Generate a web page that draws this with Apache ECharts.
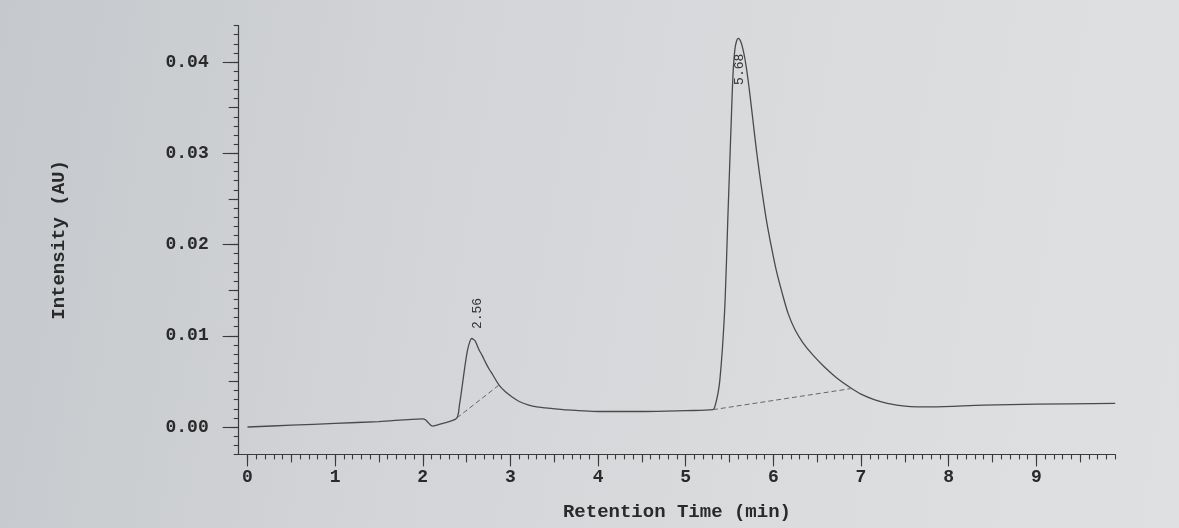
<!DOCTYPE html>
<html>
<head>
<meta charset="utf-8">
<script src="https://cdn.jsdelivr.net/npm/echarts@6/dist/echarts.min.js"></script>
<style>
  html, body { margin: 0; padding: 0; }
  #chart {
    width: 1179px; height: 528px;
    background: linear-gradient(100deg, #c5c8cc 0%, #d2d4d7 35%, #dadcde 70%, #dfe0e2 100%);
  }
</style>
</head>
<body>
<div id="chart"></div>
<script>
// ---- Data ----
const retentionTime = [0.00, 0.50, 1.00, 1.50, 2.00, 2.03, 2.07, 2.11, 2.16, 2.23, 2.30, 2.39,
  2.42, 2.45, 2.48, 2.51, 2.535, 2.556, 2.58, 2.60, 2.64, 2.68, 2.72, 2.76, 2.80, 2.87, 2.94, 3.02,
  3.10, 3.21, 3.30, 3.40, 3.60, 3.78, 4.00, 4.53, 5.00, 5.31, 5.34, 5.37, 5.39, 5.42, 5.45, 5.48,
  5.50, 5.52, 5.54, 5.56, 5.58, 5.60, 5.63, 5.66, 5.69, 5.72, 5.75, 5.78, 5.81, 5.84, 5.88, 5.92,
  5.97, 6.03, 6.10, 6.17, 6.25, 6.34, 6.45, 6.58, 6.72, 6.88, 7.00, 7.15, 7.30, 7.50, 7.80, 8.40,
  9.00, 9.90];
const intensity = [0.0000, 0.0002, 0.0004, 0.0006, 0.0009, 0.0008, 0.0004, 0.0001, 0.0002, 0.0004, 0.0006, 0.0010,
  0.0025, 0.0045, 0.0066, 0.0084, 0.0093, 0.0097, 0.0096, 0.0094, 0.0085, 0.0078, 0.0070, 0.0063, 0.0057, 0.0046, 0.0039, 0.0033,
  0.0028, 0.0024, 0.0022, 0.0021, 0.0019, 0.0018, 0.0017, 0.0017, 0.0018, 0.0019, 0.0025, 0.0038, 0.0052, 0.0088, 0.0140, 0.0227,
  0.0282, 0.0337, 0.0387, 0.0413, 0.0423, 0.0426, 0.0422, 0.0411, 0.0395, 0.0374, 0.0350, 0.0325, 0.0301, 0.0279, 0.0252, 0.0227,
  0.0201, 0.0173, 0.0147, 0.0124, 0.0106, 0.0092, 0.0079, 0.0066, 0.0054, 0.0043, 0.0036, 0.0030, 0.0026, 0.0023, 0.0022, 0.0024,
  0.0025, 0.0026];

// integration baselines (dashed)
const baseline1Time = [2.39, 2.87];
const baseline1Value = [0.0010, 0.0046];
const baseline2Time = [5.31, 6.88];
const baseline2Value = [0.0019, 0.0042];

// peak annotations
const peakLabels = ['2.56', '5.68'];
const peakApexTime = [2.556, 5.60];

// axis tick labels
const xTickLabels = [0, 1, 2, 3, 4, 5, 6, 7, 8, 9];
const yTickLabels = [0.00, 0.01, 0.02, 0.03, 0.04];

// ---- Build ----
const X_MIN = -0.1, X_MAX = 9.9, Y_MIN = -0.003, Y_MAX = 0.044;
const round = v => Math.round(v * 100000) / 100000;
const xMinor = [], xHalf = [], yMinor = [], yHalf = [];
for (let i = 0; i <= 99; i++) xMinor.push(round(i * 0.1));
for (let i = 0; i <= 19; i++) xHalf.push(round(i * 0.5));
for (let i = -3; i <= 44; i++) yMinor.push(round(i * 0.001));
for (let i = 0; i <= 8; i++) yHalf.push(round(i * 0.005));

const zip = (a, b) => a.map((v, i) => [v, b[i]]);
const mainData = zip(retentionTime, intensity);

const ink = '#3a3a3a';
const font = '"Liberation Mono", "DejaVu Sans Mono", monospace';

function xAxisLayer(ticks, len, withLabels, withLine) {
  return {
    type: 'value', position: 'bottom', min: X_MIN, max: X_MAX,
    axisLine: { show: withLine, onZero: false, lineStyle: { color: ink, width: 1.2 } },
    axisTick: { show: true, length: len, customValues: ticks, lineStyle: { color: ink, width: 1.1 } },
    axisLabel: withLabels ? {
      show: true, customValues: xTickLabels, margin: 14,
      color: '#2a2a2a', fontFamily: font, fontSize: 18, fontWeight: 'bold'
    } : { show: false },
    splitLine: { show: false },
    name: withLabels ? 'Retention Time (min)' : '',
    nameLocation: 'middle', nameGap: 48,
    nameTextStyle: { color: '#2a2a2a', fontFamily: font, fontSize: 19, fontWeight: 'bold' }
  };
}
function yAxisLayer(ticks, len, withLabels, withLine) {
  return {
    type: 'value', position: 'left', min: Y_MIN, max: Y_MAX,
    axisLine: { show: withLine, onZero: false, lineStyle: { color: ink, width: 1.2 } },
    axisTick: { show: true, length: len, customValues: ticks, lineStyle: { color: ink, width: 1.1 } },
    axisLabel: withLabels ? {
      show: true, customValues: yTickLabels, margin: 30,
      formatter: v => v.toFixed(2),
      color: '#2a2a2a', fontFamily: font, fontSize: 18, fontWeight: 'bold'
    } : { show: false },
    splitLine: { show: false },
    name: withLabels ? 'Intensity (AU)' : '',
    nameLocation: 'middle', nameGap: 170,
    nameTextStyle: { color: '#2a2a2a', fontFamily: font, fontSize: 19, fontWeight: 'bold' }
  };
}

function apexValue(t) {
  let best = 0, bd = Infinity;
  retentionTime.forEach((rt, i) => { const d = Math.abs(rt - t); if (d < bd) { bd = d; best = i; } });
  return intensity[best];
}

const chart = echarts.init(document.getElementById('chart'), null, { renderer: 'canvas' });
chart.setOption({
  backgroundColor: 'transparent',
  animation: false,
  grid: { left: 238.7, right: 63.8, top: 25.5, bottom: 73.6, outerBoundsMode: 'none' },
  xAxis: [
    xAxisLayer(xTickLabels, 12, true, true),
    xAxisLayer(xHalf, 8, false, false),
    xAxisLayer(xMinor, 5, false, false)
  ],
  yAxis: [
    yAxisLayer(yTickLabels, 16, true, true),
    yAxisLayer(yHalf, 10, false, false),
    yAxisLayer(yMinor, 5, false, false)
  ],
  series: [
    {
      type: 'line', data: mainData, xAxisIndex: 0, yAxisIndex: 0,
      showSymbol: false, smooth: 0.3, clip: true,
      lineStyle: { color: '#4a4a4a', width: 1.3 },
      markPoint: {
        symbol: 'circle', symbolSize: 0,
        label: {
          show: true, position: 'inside', rotate: 90, align: 'center', verticalAlign: 'middle',
          color: '#333', fontFamily: font, fontSize: 13,
          formatter: p => p.name
        },
        // offsets are given in the label's rotated frame: [-screenDy, screenDx]
        data: [
          { name: peakLabels[0], coord: [peakApexTime[0], apexValue(peakApexTime[0])], label: { offset: [25, 6] } },
          { name: peakLabels[1], coord: [peakApexTime[1], apexValue(peakApexTime[1])], label: { offset: [-31, 1] } }
        ]
      }
    },
    {
      type: 'line', data: zip(baseline1Time, baseline1Value), showSymbol: false,
      lineStyle: { color: '#666', width: 1, type: [5, 3] }
    },
    {
      type: 'line', data: zip(baseline2Time, baseline2Value), showSymbol: false,
      lineStyle: { color: '#666', width: 1, type: [5, 3] }
    }
  ]
});
</script>
</body>
</html>
